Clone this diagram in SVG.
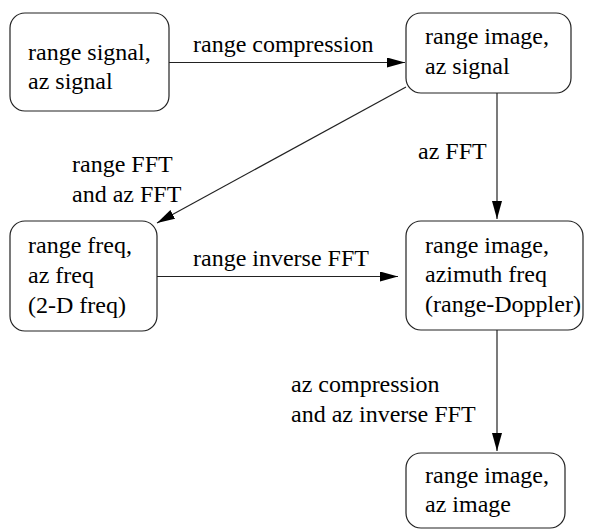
<svg xmlns="http://www.w3.org/2000/svg" width="597" height="531" viewBox="0 0 597 531">
  <defs>
    <marker id="arrow" markerWidth="18" markerHeight="10" refX="18" refY="5" orient="auto" markerUnits="userSpaceOnUse">
      <path d="M0,0 L18,5 L0,10 Z" fill="#000"/>
    </marker>
    <style>
      .box { fill: #fff; stroke: #222; stroke-width: 1.2; }
      .lbl { font-family: 'Liberation Serif', serif; font-size: 24px; fill: #000; }
      .edge { stroke: #222; stroke-width: 1.2; fill: none; marker-end: url(#arrow); }
    </style>
  </defs>
  <rect width="597" height="531" fill="#fff"/>

  <g id="n1">
    <rect class="box" x="10" y="13" width="159" height="98" rx="15"/>
    <text class="lbl" x="28" y="60">range signal,</text>
    <text class="lbl" x="28" y="89">az signal</text>
  </g>
  <g id="n2">
    <rect class="box" x="406" y="13" width="165" height="80" rx="15"/>
    <text class="lbl" x="425" y="44">range image,</text>
    <text class="lbl" x="425" y="74">az signal</text>
  </g>
  <g id="n3">
    <rect class="box" x="10" y="221" width="147" height="110" rx="15"/>
    <text class="lbl" x="28" y="253">range freq,</text>
    <text class="lbl" x="28" y="283">az freq</text>
    <text class="lbl" x="28" y="313">(2-D freq)</text>
  </g>
  <g id="n4">
    <rect class="box" x="406" y="221" width="177" height="109" rx="15"/>
    <text class="lbl" x="425" y="253">range image,</text>
    <text class="lbl" x="425" y="282">azimuth freq</text>
    <text class="lbl" x="425" y="312">(range-Doppler)</text>
  </g>
  <g id="n5">
    <rect class="box" x="406" y="453" width="159" height="75" rx="15"/>
    <text class="lbl" x="425" y="483">range image,</text>
    <text class="lbl" x="425" y="512">az image</text>
  </g>

  <g id="edges">
    <line class="edge" x1="169" y1="62.5" x2="405" y2="62.5"/>
    <line class="edge" x1="406" y1="87" x2="157" y2="223"/>
    <line class="edge" x1="497" y1="93" x2="497" y2="219"/>
    <line class="edge" x1="157" y1="276.5" x2="398" y2="276.5"/>
    <line class="edge" x1="497" y1="330" x2="497" y2="451"/>
    <text class="lbl" x="193" y="52">range compression</text>
    <text class="lbl" x="72" y="172">range FFT</text>
    <text class="lbl" x="72" y="202">and az FFT</text>
    <text class="lbl" x="418" y="159">az FFT</text>
    <text class="lbl" x="193" y="266">range inverse FFT</text>
    <text class="lbl" x="291" y="392">az compression</text>
    <text class="lbl" x="291" y="422">and az inverse FFT</text>
  </g>
</svg>
